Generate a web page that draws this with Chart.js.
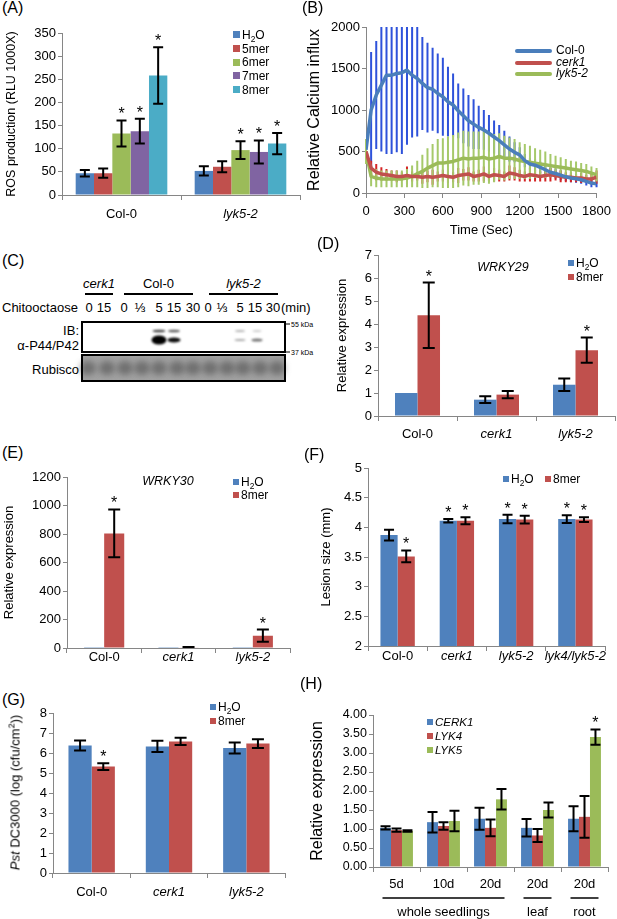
<!DOCTYPE html>
<html>
<head>
<meta charset="utf-8">
<title>Chitin response panels</title>
<script src="https://cdn.jsdelivr.net/npm/chart.js@4.4.1/dist/chart.umd.min.js"></script>
<style>
  body { margin: 0; background: #fff; }
  #page { position: relative; width: 617px; height: 919px; overflow: hidden; background: #fff;
          font-family: "Liberation Sans", Arial, sans-serif; color: #000; }
  #page canvas { position: absolute; }
  .t, .leg { position: absolute; white-space: nowrap; font-weight: normal; }
  sub, sup { font-size: 0.7em; line-height: 0; }
</style>
</head>
<body>
<div id="page"></div>
<script>
// ---------- data ----------
// (A) ROS production
const rosGenotypes = ['Col-0', 'lyk5-2'];
const rosTreatments = ['H2O', '5mer', '6mer', '7mer', '8mer'];
const rosMean = [[47, 52], [47, 61], [133, 97], [138, 93], [258, 111]];
const rosErr = [[7, 10], [10, 12], [28, 19], [27, 25], [61, 23]];
const rosStar = [[0, 0], [0, 0], [1, 1], [1, 1], [1, 1]];

// (B) calcium influx
const caLines = ['Col-0', 'cerk1', 'lyk5-2'];
const caTime = [0, 40, 80, 120, 160, 200, 240, 280, 320, 360, 400, 440, 480, 520, 560, 600, 640, 680, 720, 760,
  800, 840, 880, 920, 960, 1000, 1040, 1080, 1120, 1160, 1200, 1240, 1280, 1320, 1360, 1400, 1440, 1480, 1520,
  1560, 1600, 1640, 1680, 1720, 1760, 1800];
const caCol0 = [520, 1000, 1180, 1300, 1420, 1420, 1440, 1450, 1480, 1420, 1380, 1320, 1270, 1250, 1200, 1160,
  1100, 1060, 990, 930, 870, 830, 790, 760, 720, 675, 630, 580, 530, 490, 460, 390, 350, 335, 310, 280, 250, 235,
  215, 195, 180, 172, 160, 140, 120, 110];
const caCol0Err = [60, 700, 650, 800, 950, 950, 950, 980, 900, 750, 700, 560, 540, 500, 480, 470, 420, 380, 330,
  330, 310, 300, 260, 240, 220, 200, 190, 170, 150, 120, 90, 80, 70, 70, 70, 60, 60, 60, 60, 50, 50, 50, 50, 50,
  50, 40];
const caCerk1 = [500, 300, 250, 230, 220, 210, 200, 200, 210, 200, 200, 190, 200, 190, 200, 210, 200, 190, 210,
  220, 230, 200, 210, 230, 200, 220, 210, 200, 240, 230, 210, 200, 220, 210, 200, 210, 220, 210, 200, 190, 190,
  180, 180, 170, 170, 190];
const caCerk1Err = [40, 90, 100, 80, 70, 60, 70, 50, 110, 60, 50, 80, 70, 90, 60, 70, 80, 60, 90, 70, 80, 60, 70,
  90, 60, 80, 70, 60, 90, 80, 70, 60, 80, 70, 60, 70, 80, 60, 70, 60, 60, 50, 60, 50, 60, 80];
const caLyk5 = [500, 200, 180, 170, 170, 170, 170, 170, 180, 200, 230, 260, 300, 330, 360, 360, 370, 380, 400,
  420, 410, 420, 420, 430, 410, 420, 440, 420, 420, 410, 390, 380, 370, 360, 350, 340, 330, 320, 310, 300, 290,
  280, 270, 260, 240, 220];
const caLyk5Err = [150, 120, 110, 100, 100, 100, 100, 100, 110, 130, 160, 200, 240, 260, 290, 300, 310, 320, 330,
  330, 330, 320, 320, 310, 300, 290, 280, 270, 250, 240, 220, 210, 200, 180, 170, 160, 140, 130, 120, 110, 100,
  100, 90, 90, 80, 80];

// (D) WRKY29
const wrkyGenotypes = ['Col-0', 'cerk1', 'lyk5-2'];
const wrky29H2O = [1, 0.71, 1.36];
const wrky29H2OErr = [0, 0.15, 0.27];
const wrky29Mer = [4.38, 0.93, 2.86];
const wrky29MerErr = [1.42, 0.16, 0.55];
const wrky29Star = [1, 0, 1];

// (E) WRKY30
const wrky30H2O = [1, 1, 1];
const wrky30Mer = [804, 4, 86];
const wrky30MerErr = [168, 3, 43];
const wrky30Star = [1, 0, 1];

// (F) lesion size
const lesionGenotypes = ['Col-0', 'cerk1', 'lyk5-2', 'lyk4/lyk5-2'];
const lesionH2O = [3.87, 4.11, 4.14, 4.14];
const lesionH2OErr = [0.09, 0.03, 0.07, 0.065];
const lesionMer = [3.51, 4.11, 4.13, 4.13];
const lesionMerErr = [0.1, 0.06, 0.065, 0.04];
const lesionH2OStar = [0, 1, 1, 1];
const lesionMerStar = [1, 1, 1, 1];

// (G) Pst DC3000 growth
const pstH2O = [6.37, 6.33, 6.25];
const pstH2OErr = [0.25, 0.28, 0.27];
const pstMer = [5.32, 6.58, 6.47];
const pstMerErr = [0.17, 0.18, 0.22];
const pstMerStar = [1, 0, 0];

// (H) receptor expression
const exprStages = ['5d', '10d', '20d', '20d', '20d'];
const exprTissues = ['whole seedlings', 'leaf', 'root'];
const exprTissueSpan = [[0, 2], [3, 3], [4, 4]];
const exprGenes = ['CERK1', 'LYK4', 'LYK5'];
const exprMean = [[1.03, 1.18, 1.27, 1.03, 1.27], [0.97, 1.08, 1.03, 0.83, 1.32], [0.95, 1.21, 1.78, 1.50, 3.42]];
const exprErr = [[0.04, 0.27, 0.29, 0.23, 0.33], [0.04, 0.10, 0.22, 0.17, 0.55], [0.02, 0.27, 0.27, 0.20, 0.20]];
const exprStar = [[0, 0, 0, 0, 0], [0, 0, 0, 0, 0], [0, 0, 0, 0, 1]];

// ---------- style ----------
const FONT = '"Liberation Sans", Arial, sans-serif';
const AXIS = '#868686';
const BLUE = '#4F81BD', RED = '#C0504D', GREEN = '#9BBB59', PURPLE = '#8064A2', CYAN = '#4BACC6';
const page = document.getElementById('page');

function addCanvas(left, top, w, h) {
	let cv = document.createElement('canvas');
	cv.width = w; cv.height = h;
	cv.style.left = left + 'px'; cv.style.top = top + 'px';
	cv.style.width = w + 'px'; cv.style.height = h + 'px';
	page.appendChild(cv);
	return cv;
}

function addText(html, x, y, o) {
	o = o || {};
	let size = o.size || 13;
	let d = document.createElement('div');
	d.className = 't';
	d.innerHTML = html;
	d.style.fontSize = size + 'px';
	d.style.lineHeight = size + 'px';
	d.style.top = (y - size / 2) + 'px';
	if (o.italic) d.style.fontStyle = 'italic';
	if (o.align === 'center') { d.style.left = x + 'px'; d.style.transform = 'translateX(-50%)'; }
	else if (o.align === 'right') { d.style.right = (617 - x) + 'px'; }
	else d.style.left = x + 'px';
	page.appendChild(d);
	return d;
}

function legend(x, y, names, colors, o) {
	names.forEach((n, i) => {
		let d = document.createElement('div');
		d.className = 'leg';
		let lx = o.dx ? x + o.dx[i] : x;
		let ly = o.dy ? y + o.dy * i : y;
		d.style.left = lx + 'px';
		d.style.top = (ly - o.size / 2) + 'px';
		d.style.fontSize = o.size + 'px';
		d.style.lineHeight = o.size + 'px';
		let it = o.italic && o.italic[i];
		let mark = o.line
			? `<span style="display:inline-block;width:${o.line}px;height:4px;border-radius:2px;background:${colors[i]};vertical-align:middle;margin-right:4px"></span>`
			: `<span style="display:inline-block;width:${o.box}px;height:${o.box}px;background:${colors[i]};vertical-align:middle;margin-right:2px;position:relative;top:-1px"></span>`;
		d.innerHTML = mark + `<span style="font-style:${it ? 'italic' : 'normal'}">` + n.replace('H2O', 'H<sub>2</sub>O') + '</span>';
		page.appendChild(d);
	});
}

// error bars and significance stars, placed with the chart's own y scale
function drawErr(chart, o) {
	let ctx = chart.ctx, ys = chart.scales.y, a = chart.chartArea;
	ctx.save();
	ctx.beginPath(); ctx.rect(a.left - 10, a.top, a.right - a.left + 20, a.bottom - a.top); ctx.clip();
	chart.data.datasets.forEach((ds, i) => {
		if (!ds.err) return;
		ctx.strokeStyle = ds.errColor || '#000';
		ctx.lineWidth = o.width || 2;
		chart.getDatasetMeta(i).data.forEach((el, j) => {
			let e = ds.err[j];
			if (!e) return;
			let v = typeof ds.data[j] === 'object' ? ds.data[j].y : ds.data[j];
			let y1 = ys.getPixelForValue(v + e), y2 = ys.getPixelForValue(v - e);
			ctx.beginPath();
			ctx.moveTo(el.x, y1); ctx.lineTo(el.x, y2);
			if (o.cap) {
				ctx.moveTo(el.x - o.cap, y1); ctx.lineTo(el.x + o.cap, y1);
				ctx.moveTo(el.x - o.cap, y2); ctx.lineTo(el.x + o.cap, y2);
			}
			ctx.stroke();
		});
	});
	ctx.restore();
}

function drawStars(chart) {
	let ctx = chart.ctx, ys = chart.scales.y;
	ctx.save();
	ctx.fillStyle = '#000';
	ctx.font = 'normal 16px ' + FONT;
	ctx.textAlign = 'center';
	chart.data.datasets.forEach((ds, i) => {
		if (!ds.stars) return;
		chart.getDatasetMeta(i).data.forEach((el, j) => {
			if (!ds.stars[j]) return;
			let top = ys.getPixelForValue(ds.data[j] + (ds.err ? ds.err[j] : 0));
			ctx.fillText('*', el.x, top - 1);
		});
	});
	ctx.restore();
}

const errorBars = {
	id: 'errorBars',
	beforeDatasetsDraw(chart, args, o) { if (o.under) drawErr(chart, o); },
	afterDatasetsDraw(chart, args, o) { if (!o.under) drawErr(chart, o); drawStars(chart); }
};

const groupLabels = {
	id: 'groupLabels',
	afterDraw(chart, args, o) {
		if (!o.names) return;
		let ctx = chart.ctx, xs = chart.scales.x;
		ctx.save();
		ctx.font = 'normal ' + o.size + 'px ' + FONT;
		ctx.fillStyle = '#000'; ctx.strokeStyle = '#000'; ctx.lineWidth = 1.5;
		ctx.textAlign = 'center'; ctx.textBaseline = 'middle';
		o.names.forEach((n, i) => {
			let a = xs.getPixelForValue(o.spans[i][0]) - 14;
			let b = xs.getPixelForValue(o.spans[i][1]) + 14;
			ctx.beginPath(); ctx.moveTo(a, o.lineY); ctx.lineTo(b, o.lineY); ctx.stroke();
			ctx.fillText(n, (a + b) / 2, o.textY);
		});
		ctx.restore();
	}
};

function yScale(o) {
	return {
		min: o.min, max: o.max,
		grid: { drawOnChartArea: false, tickLength: 4, color: AXIS },
		border: { color: AXIS },
		ticks: { stepSize: o.step, color: '#000', padding: 2,
			font: { family: FONT, size: o.tickSize || 13, weight: 'normal' },
			callback: o.fmt || ((v) => String(v)) },
		title: { display: !!o.title, text: o.title, color: '#000',
			font: { family: FONT, size: o.titleSize || 13, weight: 'normal' },
			padding: { top: o.titlePad || 2, bottom: 0 } },
		afterFit: (s) => { s.width = o.yW; }
	};
}

function barChart(cv, labels, sets, o) {
	let datasets = sets.map(s => ({
		label: s.label, data: s.data, err: s.err, stars: s.stars,
		backgroundColor: s.color, borderWidth: 0,
		categoryPercentage: o.cat, barPercentage: 1
	}));
	return new Chart(cv.getContext('2d'), {
		type: 'bar',
		data: { labels: labels, datasets: datasets },
		plugins: [errorBars, groupLabels],
		options: {
			responsive: false, animation: false, events: [],
			layout: { padding: { top: o.padT, right: o.padR, bottom: 0, left: 0 } },
			plugins: {
				legend: { display: false }, tooltip: { enabled: false },
				errorBars: { cap: o.cap, width: 2 },
				groupLabels: o.groups || {}
			},
			scales: {
				x: {
					grid: { offset: true, drawOnChartArea: false, tickLength: 5, color: AXIS },
					border: { color: AXIS },
					ticks: {
						color: '#000', padding: o.xPad, maxRotation: 0, autoSkip: false,
						font: (c) => ({ family: FONT, size: 13, weight: 'normal', lineHeight: 1.2,
							style: o.italic && o.italic[c.index] ? 'italic' : 'normal' })
					},
					afterFit: (s) => { s.height = o.xH; }
				},
				y: yScale(o)
			}
		}
	});
}

// ---------- (A) ----------
addText('(A)', 2, 8, { size: 16 });
barChart(addCanvas(0, 18, 308, 215), rosGenotypes,
	rosTreatments.map((t, i) => ({ label: t, data: rosMean[i], err: rosErr[i], stars: rosStar[i],
		color: [BLUE, RED, GREEN, PURPLE, CYAN][i] })),
	{ cat: 0.77, padT: 15, padR: 8, yW: 62, xH: 38, xPad: 7, min: 0, max: 350, step: 50, cap: 5,
		title: 'ROS production (RLU 1000X)', titleSize: 12.5, titlePad: 4, italic: [false, true] });
legend(233, 35, rosTreatments, [BLUE, RED, GREEN, PURPLE, CYAN], { size: 12, box: 7, dy: 13.7 });

// ---------- (B) ----------
addText('(B)', 302, 8, { size: 16 });
function pts(xs, ys) { return xs.map((x, i) => ({ x: x, y: ys[i] })); }
new Chart(addCanvas(303, 10, 314, 232).getContext('2d'), {
	type: 'line',
	data: {
		datasets: [
			{ label: caLines[0], data: pts(caTime, caCol0), err: caCol0Err, errColor: '#2E52DA', borderColor: '#4A7EBB' },
			{ label: caLines[1], data: pts(caTime, caCerk1), err: caCerk1Err, errColor: '#D42626', borderColor: '#C0504D' },
			{ label: caLines[2], data: pts(caTime, caLyk5), err: caLyk5Err, errColor: '#A6C96A', borderColor: '#9BBB59' }
		].map(d => Object.assign(d, { borderWidth: 3.5, pointRadius: 0, tension: 0, fill: false, borderJoinStyle: 'round' }))
	},
	plugins: [errorBars],
	options: {
		responsive: false, animation: false, events: [],
		layout: { padding: { top: 17, right: 19, bottom: 0, left: 0 } },
		plugins: { legend: { display: false }, tooltip: { enabled: false }, errorBars: { under: true, width: 2 } },
		scales: {
			x: {
				type: 'linear', min: 0, max: 1800,
				grid: { drawOnChartArea: false, tickLength: 5, color: AXIS },
				border: { color: AXIS },
				ticks: { stepSize: 300, color: '#000', padding: 6, maxRotation: 0,
					font: { family: FONT, size: 13, weight: 'normal' }, callback: (v) => String(v) },
				title: { display: true, text: 'Time (Sec)', color: '#000', font: { family: FONT, size: 13, weight: 'normal' },
					padding: { top: 2, bottom: 4 } },
				afterFit: (s) => { s.height = 49; }
			},
			y: yScale({ min: 0, max: 2000, step: 500, yW: 63, title: 'Relative Calcium influx', titleSize: 16, titlePad: 0 })
		}
	}
});
legend(515, 50, caLines, ['#4A7EBB', '#C0504D', '#9BBB59'], { size: 12, line: 37, dy: 11.7, italic: [false, true, true] });

// ---------- (C) western blot ----------
addText('(C)', 2, 261, { size: 16 });
const blotLanes = [89, 104, 124, 140, 159, 174, 193, 208, 222, 240, 255, 273];
const blotLaneText = ['0', '15', '0', '⅓', '5', '15', '30', '0', '⅓', '5', '15', '30'];
const blotGroups = [['cerk1', 85, 113, true], ['Col-0', 124, 193, false], ['lyk5-2', 209, 278, true]];
blotGroups.forEach(g => addText(g[0], (g[1] + g[2]) / 2, 283, { align: 'center', italic: g[3] }));
addText('Chitooctaose', 2, 307);
blotLanes.forEach((x, i) => addText(blotLaneText[i], x, 307, { align: 'center' }));
addText('(min)', 281, 307);
addText('IB:', 79, 330, { align: 'right' });
addText('α-P44/P42', 79, 345, { align: 'right' });
addText('Rubisco', 79, 369, { align: 'right' });
addText('55 kDa', 291, 324, { size: 7 });
addText('37 kDa', 291, 352, { size: 7 });

let strip = addCanvas(0, 288, 305, 12).getContext('2d');
strip.strokeStyle = '#000';
strip.lineWidth = 2;
blotGroups.forEach(g => { strip.beginPath(); strip.moveTo(g[1], 6); strip.lineTo(g[2], 6); strip.stroke(); });

let blot = addCanvas(0, 300, 305, 90).getContext('2d');
blot.translate(0, -300);
blot.fillStyle = '#fff';
blot.fillRect(82, 322, 203, 30);
// phospho-MAPK bands: lane x, y, width, height, darkness
const blotBands = [[159, 331, 13, 2.5, 0.75], [159, 340, 15, 9, 1], [174, 331, 12, 2.5, 0.65], [174, 340, 13, 5, 0.95],
	[240, 331, 10, 2, 0.3], [240, 340, 11, 2, 0.35], [257, 331, 9, 2, 0.2], [257, 340, 11, 3, 0.55]];
blotBands.forEach(b => {
	blot.save();
	blot.filter = 'blur(1px)';
	blot.fillStyle = `rgba(0,0,0,${b[4]})`;
	blot.beginPath(); blot.ellipse(b[0], b[1], b[2] / 2, b[3] / 2, 0, 0, Math.PI * 2); blot.fill();
	blot.restore();
});
blot.fillStyle = '#a2a2a2';
blot.fillRect(82, 355, 203, 26);
const rubiscoLanes = [88, 107, 125, 142, 159, 177, 193, 210, 227, 243, 260, 277];
rubiscoLanes.forEach(x => {
	blot.save();
	blot.filter = 'blur(3px)';
	blot.fillStyle = 'rgba(70,70,70,0.55)';
	blot.beginPath(); blot.ellipse(x, 368, 8, 7, 0, 0, Math.PI * 2); blot.fill();
	blot.restore();
});
blot.strokeStyle = '#000';
blot.lineWidth = 2;
blot.strokeRect(82, 322, 203, 30);
blot.strokeRect(82, 355, 203, 26);
blot.lineWidth = 1;
blot.beginPath();
blot.moveTo(285, 324); blot.lineTo(290, 324);
blot.moveTo(285, 352); blot.lineTo(290, 352);
blot.stroke();

// ---------- (D) ----------
addText('(D)', 317, 244, { size: 16 });
barChart(addCanvas(333, 238, 284, 205), wrkyGenotypes,
	[{ label: 'H2O', data: wrky29H2O, err: wrky29H2OErr, color: BLUE },
	 { label: '8mer', data: wrky29Mer, err: wrky29MerErr, stars: wrky29Star, color: RED }],
	{ cat: 0.57, padT: 17, padR: 2, yW: 45, xH: 27, xPad: 6, min: 0, max: 7, step: 1, cap: 6,
		title: 'Relative expression', italic: [false, true, true] });
addText('WRKY29', 503, 267, { align: 'center', italic: true, size: 12.5 });
legend(568, 263, ['H2O', '8mer'], [BLUE, RED], { size: 12, box: 6, dy: 14 });

// ---------- (E) ----------
addText('(E)', 2, 453, { size: 16 });
barChart(addCanvas(0, 460, 300, 215), wrkyGenotypes,
	[{ label: 'H2O', data: wrky30H2O, color: BLUE },
	 { label: '8mer', data: wrky30Mer, err: wrky30MerErr, stars: wrky30Star, color: RED }],
	{ cat: 0.54, padT: 17, padR: 10, yW: 67, xH: 27, xPad: -3, min: 0, max: 1200, step: 200, cap: 6,
		title: 'Relative expression', titlePad: 2, italic: [false, true, true] });
addText('WRKY30', 168, 481, { align: 'center', italic: true, size: 12.5 });
legend(233, 482, ['H2O', '8mer'], [BLUE, RED], { size: 12, box: 6, dy: 13 });

// ---------- (F) ----------
addText('(F)', 304, 455, { size: 16 });
barChart(addCanvas(317, 450, 300, 222), lesionGenotypes,
	[{ label: 'H2O', data: lesionH2O, err: lesionH2OErr, stars: lesionH2OStar, color: BLUE },
	 { label: '8mer', data: lesionMer, err: lesionMerErr, stars: lesionMerStar, color: RED }],
	{ cat: 0.58, padT: 18, padR: 12, yW: 51, xH: 26, xPad: -2, min: 2, max: 5, step: 0.5, cap: 5,
		title: 'Lesion size (mm)', italic: [false, true, true, true] });
legend(503, 479, ['H2O', '8mer'], [BLUE, RED], { size: 12, box: 6, dx: [0, 42] });

// ---------- (G) ----------
addText('(G)', 2, 700, { size: 16 });
barChart(addCanvas(6, 700, 294, 205), wrkyGenotypes,
	[{ label: 'H2O', data: pstH2O, err: pstH2OErr, color: BLUE },
	 { label: '8mer', data: pstMer, err: pstMerErr, stars: pstMerStar, color: RED }],
	{ cat: 0.6, padT: 13, padR: 15, yW: 47, xH: 32, xPad: 7, min: 0, max: 8, step: 1, cap: 6,
		italic: [false, true, true] });
let gTitle = addText('<i>Pst</i> DC3000 (log (cfu/cm<sup>2</sup>))', 15, 792, { size: 13 });
gTitle.style.transform = 'translate(-50%, 0) rotate(-90deg)';
legend(210, 707, ['H2O', '8mer'], [BLUE, RED], { size: 12, box: 6, dy: 14 });

// ---------- (H) ----------
addText('(H)', 300, 684, { size: 16 });
barChart(addCanvas(306, 700, 311, 219), exprStages,
	exprGenes.map((g, i) => ({ label: g, data: exprMean[i], err: exprErr[i], stars: exprStar[i],
		color: [BLUE, RED, GREEN][i] })),
	{ cat: 0.7, padT: 15, padR: 9, yW: 67, xH: 52, xPad: 5, min: 0, max: 4, step: 0.5, cap: 5, tickSize: 12.5,
		fmt: (v) => v.toFixed(2), title: 'Relative expression', titleSize: 16, titlePad: 2,
		groups: { names: exprTissues, spans: exprTissueSpan, lineY: 198, textY: 212, size: 13 } });
legend(427, 723, exprGenes, [BLUE, RED, GREEN], { size: 11.5, box: 6, dy: 14, italic: [true, true, true] });
</script>
</body>
</html>
